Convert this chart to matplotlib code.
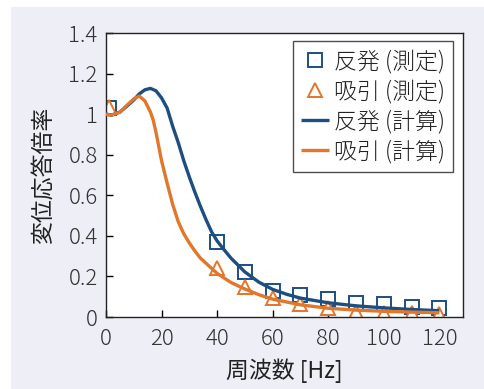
import matplotlib
matplotlib.use("Agg")
import matplotlib.pyplot as plt
from matplotlib.patches import Rectangle

plt.rcParams['font.family'] = ['Noto Sans CJK JP', 'DejaVu Sans']

# measured points
meas_x = [1, 40, 50, 60, 70, 80, 90, 100, 110, 120]
rep_meas = [1.028, 0.371, 0.223, 0.128, 0.108, 0.087, 0.067, 0.064, 0.051, 0.043]
att_meas = [1.033, 0.240, 0.146, 0.092, 0.064, 0.043, 0.026, 0.018, 0.018, 0.015]

# calculated curves
rep_calc_x = [0, 2, 5, 8, 10, 12, 14, 16, 18, 20, 22, 24, 26, 28, 30, 32, 34, 36,
              38, 40, 42, 45, 50, 55, 60, 65, 70, 80, 90, 100, 110, 120]
rep_calc = [1.00, 0.995, 1.01, 1.045, 1.07, 1.10, 1.12, 1.127, 1.115, 1.08, 1.03,
            0.94, 0.86, 0.77, 0.69, 0.615, 0.545, 0.48, 0.42, 0.375, 0.34, 0.29,
            0.222, 0.172, 0.136, 0.112, 0.093, 0.07, 0.055, 0.045, 0.037, 0.031]
att_calc_x = [0, 2, 5, 8, 10, 12, 14, 16, 17, 18, 20, 22, 24, 26, 28, 30, 32, 34,
              36, 40, 45, 50, 55, 60, 70, 80, 90, 100, 110, 120]
att_calc = [1.00, 0.995, 1.01, 1.05, 1.075, 1.089, 1.065, 1.01, 0.97, 0.91, 0.77,
            0.66, 0.555, 0.47, 0.41, 0.365, 0.325, 0.29, 0.265, 0.215, 0.17,
            0.138, 0.11, 0.088, 0.06, 0.043, 0.034, 0.028, 0.024, 0.021]

xticks = [0, 20, 40, 60, 80, 100, 120]
yticks = [0, 0.2, 0.4, 0.6, 0.8, 1.0, 1.2, 1.4]
ytick_labels = ["0", "0.2", "0.4", "0.6", "0.8", "1", "1.2", "1.4"]

BLUE = "#1d4e82"
ORANGE = "#e2762b"

fig = plt.figure(figsize=(4.84, 3.89), dpi=100, facecolor="white")
bg = Rectangle((11/484, 0), 1, (389-7)/389, transform=fig.transFigure,
               facecolor="#eeeef7", edgecolor="none", zorder=-10)
fig.add_artist(bg)
ax = fig.add_axes([106/484, 72/389, 357/484, 284/389])
ax.set_zorder(1)

s1, = ax.plot(meas_x, rep_meas, "s", ms=9.5, mfc="white", mec=BLUE, mew=1.4,
              ls="none", zorder=2, label="反発 (測定)")
s2, = ax.plot(meas_x, att_meas, "^", ms=10, mfc="white", mec=ORANGE, mew=1.4,
              ls="none", zorder=2, label="吸引 (測定)")
l1, = ax.plot(rep_calc_x, rep_calc, color=BLUE, lw=2.4, zorder=3,
              solid_capstyle="butt", label="反発 (計算)")
l2, = ax.plot(att_calc_x, att_calc, color=ORANGE, lw=2.4, zorder=3,
              solid_capstyle="butt", label="吸引 (計算)")

ax.set_xlim(0, 128.5)
ax.set_ylim(0, 1.4)
ax.set_xticks(xticks)
ax.set_yticks(yticks, ytick_labels)
ax.tick_params(direction="in", length=5, width=1, labelsize=16,
               labelcolor="#333333", top=False, right=False)
ax.tick_params(axis="y", pad=6)
ax.tick_params(axis="x", pad=8)
for lab in ax.get_xticklabels() + ax.get_yticklabels():
    lab.set_fontweight("light")
for sp in ax.spines.values():
    sp.set_linewidth(1.0)
    sp.set_color("#222222")

ax.set_xlabel("周波数 [Hz]", fontsize=16.5, color="#222222", labelpad=6)
ax.set_ylabel("変位応答倍率", fontsize=16.5, color="#222222", labelpad=9)

leg = ax.legend(handles=[s1, s2, l1, l2], loc="upper right",
                bbox_to_anchor=(0.972, 0.972), borderaxespad=0, fontsize=16.5,
                frameon=True, fancybox=False, edgecolor="#222222",
                handlelength=1.25, handletextpad=0.2, borderpad=0.35,
                labelspacing=0.22)
leg.get_frame().set_linewidth(1.0)
for t in leg.get_texts():
    t.set_color("#222222")
    t.set_fontweight("light")

fig.savefig("out.png", dpi=100)
